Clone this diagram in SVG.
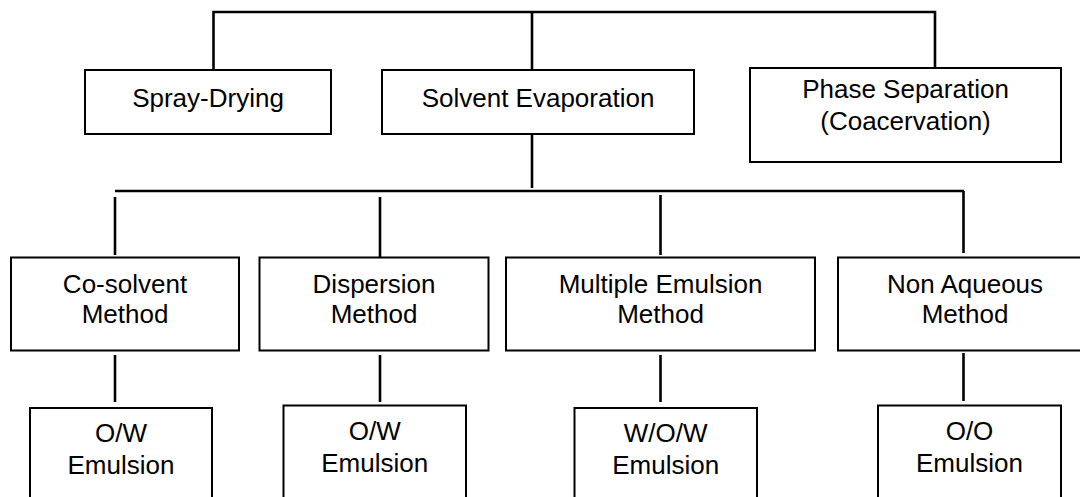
<svg xmlns="http://www.w3.org/2000/svg" width="1080" height="497" viewBox="0 0 1080 497">
<style>
.box{fill:#fff;stroke:#000;stroke-width:2}
.t{font-family:"Liberation Sans",Arial,sans-serif;font-size:26px;fill:#000;text-anchor:middle}
.c{stroke:#000;stroke-width:2.6;fill:none}
</style>
<rect width="1080" height="497" fill="#fff"/>
<g id="connectors">
<polyline class="c" points="213.5,71 213.5,12 935,12 935,70"/>
<line class="c" x1="532" y1="12" x2="532" y2="71"/>
<line class="c" x1="532" y1="134" x2="532" y2="188"/>
<line class="c" x1="115" y1="191" x2="964" y2="191"/>
<line class="c" x1="115" y1="197" x2="115" y2="255"/>
<line class="c" x1="380" y1="197" x2="380" y2="257"/>
<line class="c" x1="660.5" y1="195" x2="660.5" y2="255"/>
<line class="c" x1="963.5" y1="191" x2="963.5" y2="253"/>
<line class="c" x1="115" y1="355" x2="115" y2="402"/>
<line class="c" x1="380" y1="355" x2="380" y2="402"/>
<line class="c" x1="660.5" y1="355" x2="660.5" y2="402"/>
<line class="c" x1="963.5" y1="353" x2="963.5" y2="401"/>
</g>
<g id="spray-drying">
<rect class="box" x="85" y="70" width="246" height="64"/>
<text class="t" x="208" y="107">Spray-Drying</text>
</g>
<g id="solvent-evaporation">
<rect class="box" x="382" y="70" width="312" height="64"/>
<text class="t" x="538" y="107">Solvent Evaporation</text>
</g>
<g id="phase-separation">
<rect class="box" x="750" y="68" width="311" height="94"/>
<text class="t" x="905.5" y="98">Phase Separation</text>
<text class="t" x="905.5" y="130">(Coacervation)</text>
</g>
<g id="co-solvent">
<rect class="box" x="11" y="257.5" width="228" height="93"/>
<text class="t" x="125" y="293">Co-solvent</text>
<text class="t" x="125" y="323">Method</text>
</g>
<g id="dispersion">
<rect class="box" x="259.5" y="257.5" width="229" height="93"/>
<text class="t" x="374" y="293">Dispersion</text>
<text class="t" x="374" y="323">Method</text>
</g>
<g id="multiple-emulsion">
<rect class="box" x="506" y="257.5" width="309" height="93"/>
<text class="t" x="660.5" y="293">Multiple Emulsion</text>
<text class="t" x="660.5" y="323">Method</text>
</g>
<g id="non-aqueous">
<rect class="box" x="838" y="257.5" width="254" height="93"/>
<text class="t" x="965" y="293">Non Aqueous</text>
<text class="t" x="965" y="323">Method</text>
</g>
<g id="ow-emulsion-1">
<rect class="box" x="30" y="408" width="182" height="100"/>
<text class="t" x="121" y="442">O/W</text>
<text class="t" x="121" y="474">Emulsion</text>
</g>
<g id="ow-emulsion-2">
<rect class="box" x="283.5" y="405.5" width="182.5" height="100"/>
<text class="t" x="374.7" y="440">O/W</text>
<text class="t" x="374.7" y="472">Emulsion</text>
</g>
<g id="wow-emulsion">
<rect class="box" x="574.5" y="408" width="182.5" height="100"/>
<text class="t" x="665.7" y="442">W/O/W</text>
<text class="t" x="665.7" y="474">Emulsion</text>
</g>
<g id="oo-emulsion">
<rect class="box" x="878" y="405.5" width="183" height="100"/>
<text class="t" x="969.5" y="440">O/O</text>
<text class="t" x="969.5" y="472">Emulsion</text>
</g>
</svg>
